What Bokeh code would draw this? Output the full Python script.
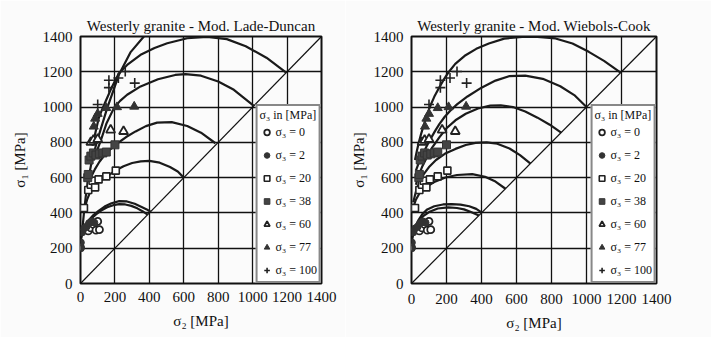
from bokeh.plotting import figure
from bokeh.models import Range1d, FixedTicker, Legend, LegendItem
from bokeh.layouts import row
from bokeh.embed import file_html
from bokeh.resources import INLINE

FONT = "Liberation Serif"
TICKS = [0, 200, 400, 600, 800, 1000, 1200, 1400]

# ---- measured data (sigma2, sigma1) per sigma3 ----
SIG3 = [0, 2, 20, 38, 60, 77, 100]
s3_0_s2 = [0, 45, 60, 75, 90, 100, 110]
s3_0_s1 = [205, 298, 315, 335, 302, 352, 305]
s3_2_s2 = [2, 2, 10, 20, 35, 50, 65, 80]
s3_2_s1 = [200, 232, 290, 312, 322, 342, 352, 345]
s3_20_s2 = [20, 45, 60, 70, 85, 105, 150, 205]
s3_20_s1 = [428, 530, 560, 582, 545, 590, 607, 640]
s3_38_s2 = [42, 45, 50, 60, 75, 90, 110, 130, 150, 200]
s3_38_s1 = [600, 618, 700, 722, 740, 728, 735, 740, 745, 786]
s3_60_s2 = [60, 75, 100, 175, 250]
s3_60_s1 = [800, 812, 818, 870, 862]
s3_77_s2 = [77, 85, 100, 150, 212, 312]
s3_77_s1 = [890, 935, 962, 995, 1000, 1003]
s3_100_s2 = [100, 165, 165, 220, 260, 315]
s3_100_s1 = [1015, 1110, 1152, 1165, 1202, 1136]

# ---- model curves (Mod. Lade-Duncan) ----
ld_a_s2 = [0, 5, 15, 30, 50, 75, 105, 140, 180, 225, 270, 315, 355, 385, 407]
ld_a_s1 = [235, 270, 305, 335, 362, 388, 412, 436, 455, 467, 465, 452, 434, 420, 407]
ld_b_s2 = [3, 10, 22, 40, 62, 90, 120, 155, 190, 225, 260, 295, 330, 360, 390]
ld_b_s1 = [250, 285, 315, 342, 367, 392, 413, 432, 444, 450, 448, 440, 426, 410, 390]
ld_c_s2 = [20, 28, 40, 55, 75, 100, 130, 165, 203, 250, 300, 350, 400, 460, 520, 565, 600]
ld_c_s1 = [400, 440, 480, 515, 545, 570, 592, 615, 640, 665, 683, 692, 695, 685, 660, 635, 600]
ld_d_s2 = [38, 50, 65, 85, 110, 140, 175, 215, 265, 320, 380, 445, 530, 620, 700, 784]
ld_d_s1 = [530, 570, 610, 650, 690, 728, 762, 795, 830, 862, 892, 912, 915, 893, 855, 795]
ld_e_s2 = [75, 95, 116, 150, 194, 230, 271, 349, 450, 550, 610, 700, 800, 891, 1007]
ld_e_s1 = [700, 750, 805, 905, 994, 1035, 1070, 1117, 1158, 1182, 1187, 1178, 1145, 1098, 1007]
ld_f_s2 = [70, 90, 106, 125, 145, 184, 223, 271, 349, 430, 504, 620, 736, 850, 960, 1080, 1195]
ld_f_s1 = [780, 870, 937, 985, 1030, 1117, 1192, 1239, 1296, 1335, 1362, 1390, 1398, 1385, 1345, 1280, 1195]
ld_g_s2 = [12, 20, 30, 45, 65, 97, 155, 223, 290, 368, 400]
ld_g_s1 = [320, 400, 490, 590, 690, 810, 994, 1183, 1310, 1400, 1440]

# ---- model curves (Mod. Wiebols-Cook) ----
wc_a_s2 = [0, 3, 10, 23, 40, 61, 90, 130, 180, 230, 280, 330, 370, 402]
wc_a_s1 = [220, 260, 292, 326, 360, 392, 420, 438, 448, 450, 447, 438, 423, 402]
wc_b_s2 = [3, 10, 22, 40, 65, 100, 150, 210, 260, 300, 340, 385]
wc_b_s1 = [245, 280, 310, 345, 380, 405, 425, 431, 428, 420, 405, 385]
wc_c_s2 = [4, 13, 25, 45, 80, 130, 194, 260, 347, 420, 480, 537]
wc_c_s1 = [410, 440, 475, 510, 545, 575, 601, 615, 620, 605, 578, 537]
wc_d_s2 = [10, 25, 45, 70, 100, 140, 190, 251, 310, 366, 430, 490, 560, 620, 680]
wc_d_s1 = [460, 520, 575, 620, 660, 700, 735, 763, 785, 797, 800, 792, 765, 728, 680]
wc_e_s2 = [25, 40, 60, 85, 118, 160, 200, 251, 310, 380, 450, 510, 580, 650, 720, 790, 855]
wc_e_s1 = [560, 610, 660, 710, 770, 830, 880, 925, 962, 992, 1008, 1010, 1000, 975, 940, 900, 855]
wc_f_s2 = [25, 40, 61, 85, 109, 135, 160, 190, 220, 260, 320, 400, 480, 557, 650, 750, 850, 930, 1000]
wc_f_s1 = [640, 680, 725, 775, 820, 865, 905, 945, 978, 1015, 1060, 1110, 1150, 1175, 1178, 1160, 1118, 1068, 1000]
wc_g_s2 = [20, 30, 42, 55, 70, 88, 109, 130, 156, 185, 213, 250, 309, 370, 442, 530, 632, 720, 823, 920, 1013, 1100, 1195]
wc_g_s1 = [700, 748, 801, 848, 898, 955, 1010, 1058, 1107, 1157, 1199, 1245, 1294, 1330, 1360, 1388, 1398, 1398, 1389, 1360, 1313, 1262, 1195]

DIAG = [0, 1400]

SERIES = [
    (s3_0_s2, s3_0_s1, dict(marker="circle", size=7, fill_color="white", line_color="#222", line_width=1.8)),
    (s3_2_s2, s3_2_s1, dict(marker="circle", size=7, fill_color="#333", line_color="#333", line_width=1)),
    (s3_20_s2, s3_20_s1, dict(marker="square", size=7, fill_color="white", line_color="#222", line_width=1.6)),
    (s3_38_s2, s3_38_s1, dict(marker="square", size=8, fill_color="#444", line_color="#333", line_width=1)),
    (s3_60_s2, s3_60_s1, dict(marker="triangle", size=9, fill_color="white", line_color="#222", line_width=1.8)),
    (s3_77_s2, s3_77_s1, dict(marker="triangle", size=9, fill_color="#333", line_color="#333", line_width=1)),
    (s3_100_s2, s3_100_s1, dict(marker="cross", size=10, line_color="#222", line_width=1.6)),
]

LD_CURVES = [(ld_a_s2, ld_a_s1), (ld_b_s2, ld_b_s1), (ld_c_s2, ld_c_s1), (ld_d_s2, ld_d_s1),
             (ld_e_s2, ld_e_s1), (ld_f_s2, ld_f_s1), (ld_g_s2, ld_g_s1)]
WC_CURVES = [(wc_a_s2, wc_a_s1), (wc_b_s2, wc_b_s1), (wc_c_s2, wc_c_s1), (wc_d_s2, wc_d_s1),
             (wc_e_s2, wc_e_s1), (wc_f_s2, wc_f_s1), (wc_g_s2, wc_g_s1)]


def panel(title, curves, width, bl, br, bt, bb, xstand, ylab_stand):
    p = figure(width=width, height=337, output_backend="svg", toolbar_location=None,
               x_range=Range1d(0, 1400), y_range=Range1d(0, 1400),
               min_border_left=bl, min_border_right=br, min_border_top=bt, min_border_bottom=bb,
               background_fill_color="#fbfbfb", border_fill_color="#fbfbfb")
    p.title.text = title
    p.title.align = "center"
    p.title.text_font = FONT
    p.title.text_font_size = "15px"
    p.title.text_font_style = "normal"
    p.title.text_color = "#111"
    p.title.standoff = 5
    for ax in (p.xaxis[0], p.yaxis[0]):
        ax.ticker = FixedTicker(ticks=TICKS)
        ax.major_tick_in = 0
        ax.major_tick_out = 0
        ax.minor_tick_line_color = None
        ax.axis_line_color = None
        ax.major_label_text_font = FONT
        ax.major_label_text_font_size = "15px"
        ax.major_label_text_color = "#111"
        ax.major_label_standoff = 8
        ax.axis_label_text_font = FONT
        ax.axis_label_text_font_size = "15px"
        ax.axis_label_text_font_style = "normal"
        ax.axis_label_text_color = "#111"
    p.xaxis.axis_label = "σ₂ [MPa]"
    p.yaxis.axis_label = "σ₁ [MPa]"
    p.xaxis.major_label_standoff = xstand
    p.xaxis.axis_label_standoff = 8
    p.yaxis.axis_label_standoff = ylab_stand
    p.grid.grid_line_color = "#111"
    p.grid.grid_line_width = 1.3
    p.grid.grid_line_alpha = 1
    p.outline_line_color = "#111"
    p.outline_line_width = 2
    p.line(DIAG, DIAG, line_color="#111", line_width=1.2)
    for xs, ys in curves:
        p.line(xs, ys, line_color="#1a1a1a", line_width=2.2)
    items = []
    for (xs, ys, st), s3 in zip(SERIES, SIG3):
        r = p.scatter(xs, ys, **st)
        items.append(LegendItem(label=f"σ₃ = {s3}", renderers=[r]))
    leg = Legend(items=items, location="bottom_right", title="σ₃ in [MPa]",
                 title_text_font=FONT, title_text_font_size="12px", title_text_font_style="normal",
                 title_text_color="#111",
                 label_text_font=FONT, label_text_font_size="12px", label_text_color="#111",
                 glyph_width=14, glyph_height=18, label_height=18, spacing=5,
                 padding=2, margin=0, label_standoff=2, title_standoff=0,
                 border_line_color="#111", border_line_width=2,
                 background_fill_color="white", background_fill_alpha=1)
    p.add_layout(leg)
    return p


p1 = panel("Westerly granite - Mod. Lade-Duncan", LD_CURVES, 345, 80, 24, 36, 54, 8, 12)
p2 = panel("Westerly granite - Mod. Wiebols-Cook", WC_CURVES, 366, 66, 55, 36, 54, 10, 4)
layout = row(p1, p2)
open("out.html", "w").write(file_html(layout, INLINE))
